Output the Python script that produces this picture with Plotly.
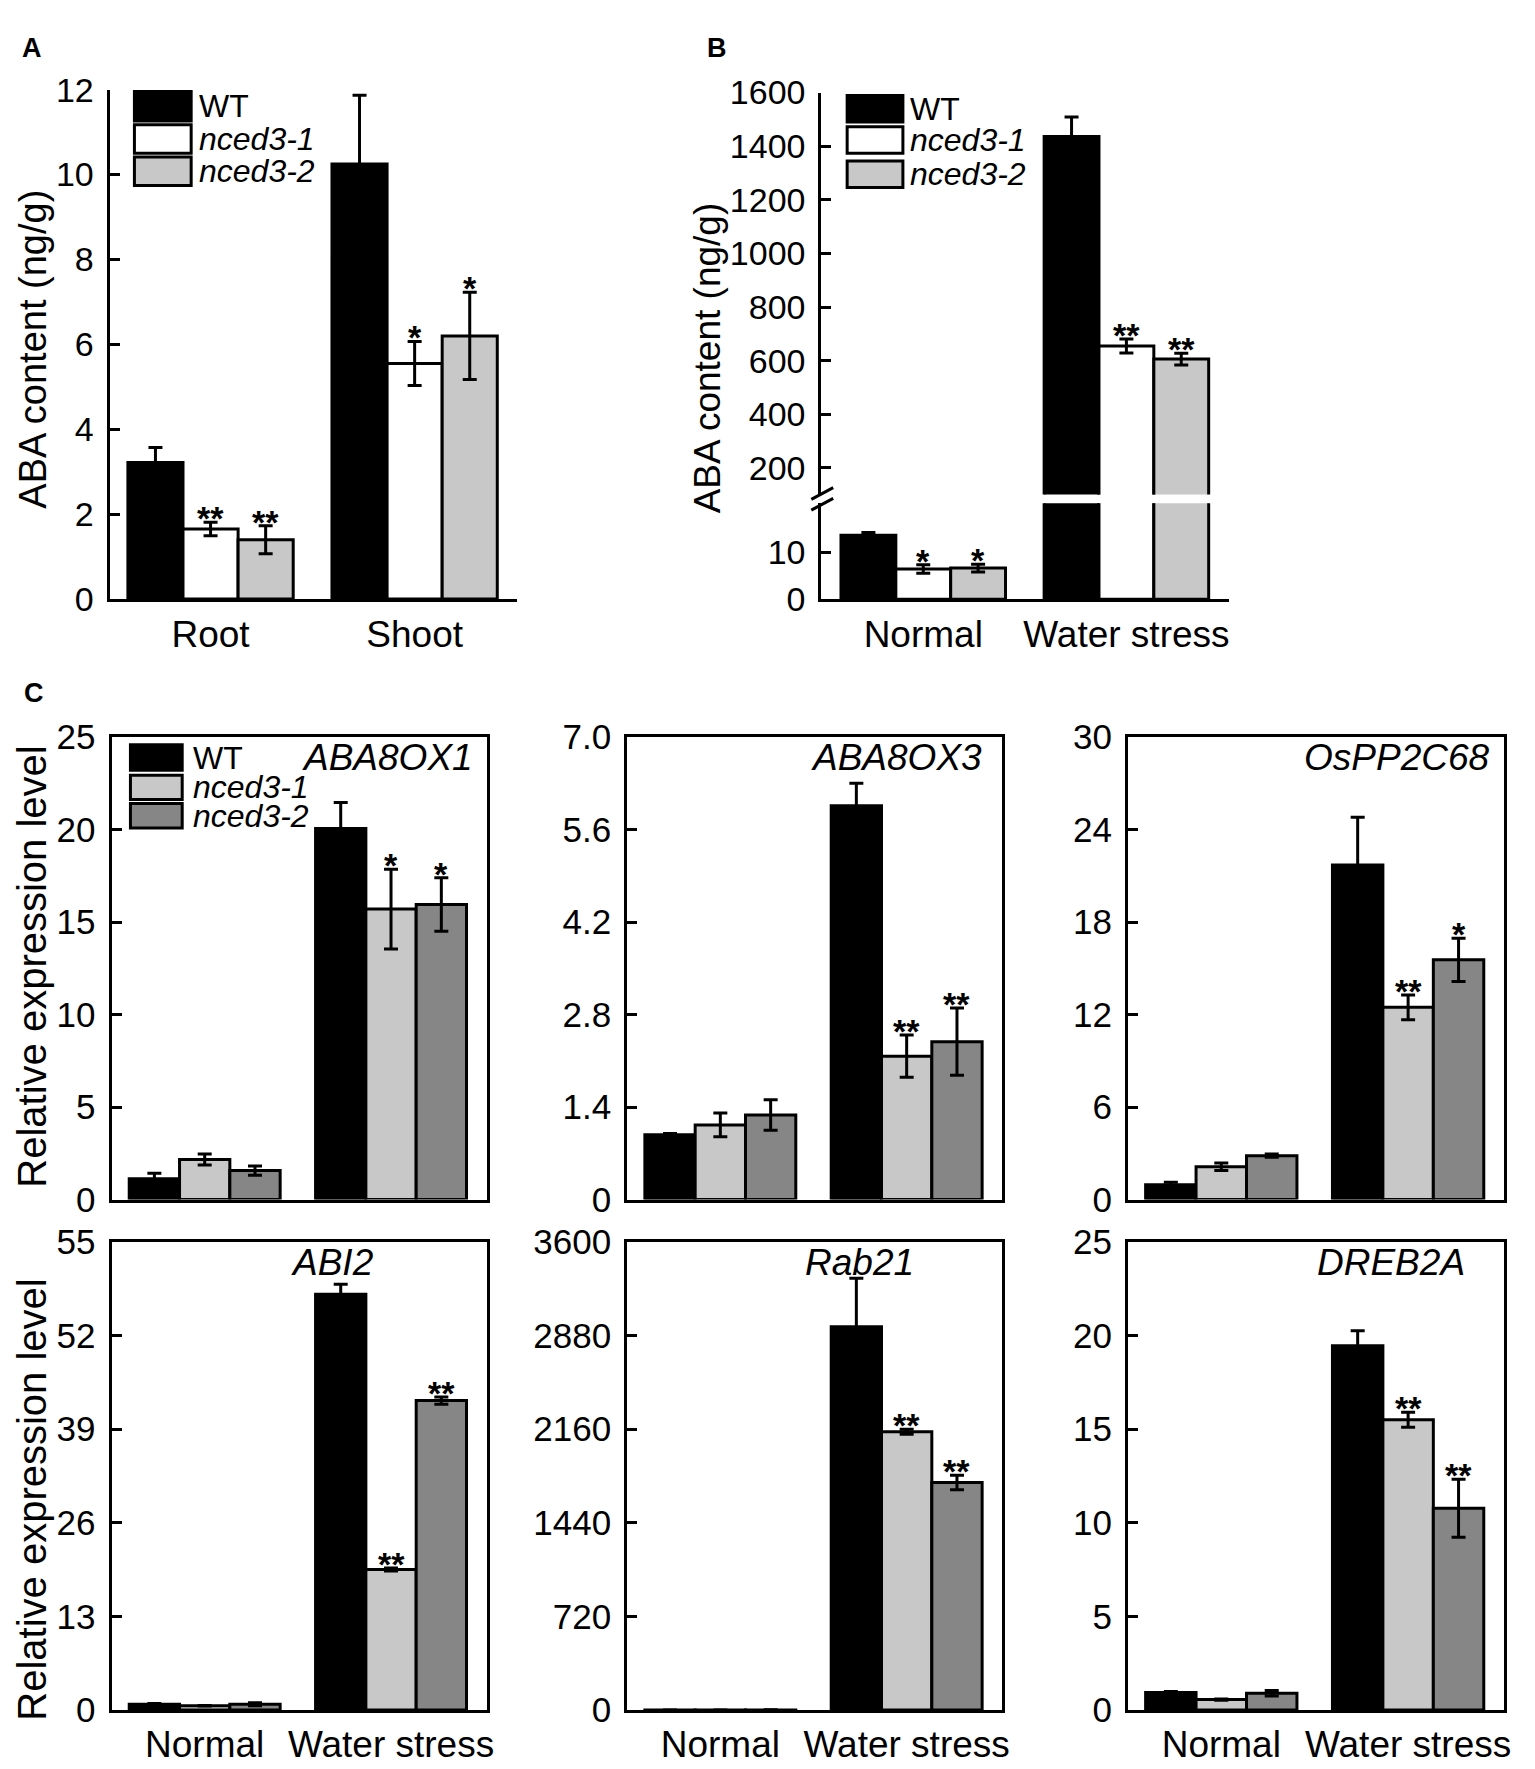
import plotly.graph_objects as go

W, H = 1535, 1769
FONT = "Liberation Sans, Arial, sans-serif"

# ---- data ----
genotypes = ["WT", "nced3-1", "nced3-2"]

# panel A: ABA content by tissue
tissues = ["Root", "Shoot"]
a_vals = [[3.22, 10.25], [1.65, 5.55], [1.40, 6.20]]
a_errs = [[0.35, 1.62], [0.16, 0.52], [0.33, 1.03]]
a_stars = [["", ""], ["**", "*"], ["**", "*"]]
a_ticks = [0, 2, 4, 6, 8, 10, 12]

# panel B: ABA content by condition (broken axis)
conditions = ["Normal", "Water stress"]
b_vals = [[13.6, 1436], [6.4, 655], [6.6, 606]]
b_errs = [[0.6, 73], [0.9, 26], [0.8, 22]]
b_stars = [["", ""], ["*", "**"], ["*", "**"]]
b_low_ticks = [0, 10]
b_high_ticks = [200, 400, 600, 800, 1000, 1200, 1400, 1600]

# panel C: relative expression of six genes
genes = ["ABA8OX1", "ABA8OX3", "OsPP2C68", "ABI2", "Rab21", "DREB2A"]
c_wt = [[1.13, 20.06], [0.98, 5.96], [0.97, 21.7], [0.8, 57.7], [1.0, 2946], [0.94, 19.44]]
c_wt_err = [[0.3, 1.4], [0.02, 0.34], [0.15, 3.1], [0.1, 1.4], [0.5, 372], [0.05, 0.8]]
c_n1 = [[2.17, 15.7], [1.13, 2.17], [2.13, 12.47], [0.6, 19.5], [0.8, 2139], [0.56, 15.5]]
c_n1_err = [[0.3, 2.15], [0.18, 0.32], [0.25, 0.8], [0.05, 0.2], [0.5, 20], [0.03, 0.4]]
c_n2 = [[1.57, 15.95], [1.28, 2.39], [2.85, 15.55], [0.8, 42.95], [1.2, 1749], [0.9, 10.77]]
c_n2_err = [[0.25, 1.45], [0.23, 0.51], [0.1, 1.4], [0.2, 0.5], [0.5, 55], [0.15, 1.55]]
c_n1_stars = [["", "*"], ["", "**"], ["", "**"], ["", "**"], ["", "**"], ["", "**"]]
c_n2_stars = [["", "*"], ["", "**"], ["", "*"], ["", "**"], ["", "**"], ["", "**"]]
c_ranges = [[0, 25], [0, 7], [0, 30], [0, 65], [0, 3600], [0, 25]]
c_tickvals = [[0, 5, 10, 15, 20, 25],
              [0, 1.4, 2.8, 4.2, 5.6, 7.0],
              [0, 6, 12, 18, 24, 30],
              [0, 13, 26, 39, 52, 65],
              [0, 720, 1440, 2160, 2880, 3600],
              [0, 5, 10, 15, 20, 25]]
c_ticktext = [["0", "5", "10", "15", "20", "25"],
              ["0", "1.4", "2.8", "4.2", "5.6", "7.0"],
              ["0", "6", "12", "18", "24", "30"],
              ["0", "13", "26", "39", "52", "55"],
              ["0", "720", "1440", "2160", "2880", "3600"],
              ["0", "5", "10", "15", "20", "25"]]

ab_colors = ["#000000", "#ffffff", "#c8c8c8"]
c_colors = ["#000000", "#c8c8c8", "#868686"]

BARGAP = 0.19
BW = (1 - BARGAP) / 3


def dom_x(left, right):
    return [left / W, right / W]


def dom_y(top, bottom):
    return [1 - bottom / H, 1 - top / H]


fig = go.Figure()
annotations = []
shapes = []


def add_panel(xa, ya, cats, vals, errs, stars, colors, star_ok=None):
    for k in range(3):
        fig.add_trace(go.Bar(
            x=cats, y=vals[k], name=genotypes[k], xaxis=xa, yaxis=ya,
            marker=dict(color=colors[k], line=dict(color="black", width=3)),
            error_y=dict(type="data", array=errs[k], color="black", thickness=3, width=7),
            showlegend=False, hoverinfo="skip"))
        for i in range(len(cats)):
            if stars[k][i] and (star_ok is None or star_ok(vals[k][i])):
                annotations.append(dict(
                    x=i + (k - 1) * BW, y=vals[k][i] + errs[k][i],
                    xref=xa, yref=ya, text="<b>" + stars[k][i] + "</b>",
                    showarrow=False, yanchor="bottom", yshift=-17,
                    font=dict(size=34, family=FONT, color="black")))


def add_legend(x0, x1, rows, text_x, colors):
    for k, (top, bot) in enumerate(rows):
        shapes.append(dict(type="rect", xref="paper", yref="paper",
                           x0=x0 / W, x1=x1 / W, y0=1 - bot / H, y1=1 - top / H,
                           fillcolor=colors[k], line=dict(color="black", width=3)))
        label = genotypes[k] if k == 0 else "<i>" + genotypes[k] + "</i>"
        annotations.append(dict(x=text_x / W, y=1 - (top + bot) / 2 / H, xref="paper", yref="paper",
                                text=label, showarrow=False, xanchor="left", yanchor="middle",
                                height=28, valign="middle",
                                font=dict(size=32, family=FONT, color="black")))


# panel A
add_panel("x", "y", tissues, a_vals, a_errs, a_stars, ab_colors)
# panel B, lower and upper segments
add_panel("x2", "y2", conditions, b_vals, b_errs, b_stars, ab_colors, lambda v: v < 20)
add_panel("x3", "y3", conditions, b_vals, b_errs, b_stars, ab_colors, lambda v: v > 100)
# panel C
c_axes = [("x4", "y4"), ("x5", "y5"), ("x6", "y6"), ("x7", "y7"), ("x8", "y8"), ("x9", "y9")]
for g in range(6):
    add_panel(c_axes[g][0], c_axes[g][1], conditions,
              [c_wt[g], c_n1[g], c_n2[g]], [c_wt_err[g], c_n1_err[g], c_n2_err[g]],
              [["", ""], c_n1_stars[g], c_n2_stars[g]], c_colors)

line = dict(showline=True, linewidth=3, linecolor="black", showgrid=False, zeroline=False)
ytick = dict(ticks="inside", ticklen=10, tickwidth=3, tickcolor="black", ticklabelstandoff=6)

layout = dict(
    width=W, height=H, margin=dict(l=0, r=0, t=0, b=0),
    paper_bgcolor="white", plot_bgcolor="white",
    barmode="group", bargap=BARGAP, bargroupgap=0,
    font=dict(family=FONT, color="black"),
    showlegend=False,
)

# A axes
layout["xaxis"] = dict(domain=dom_x(102, 511), anchor="y", range=[-0.495, 1.5], ticks="",
                       tickfont=dict(size=37), **line)
layout["yaxis"] = dict(domain=dom_y(63, 584), anchor="x", range=[0, 12], tickvals=a_ticks,
                       tickfont=dict(size=34), **line, **ytick)
# B axes
layout["xaxis2"] = dict(domain=dom_x(817, 1227), anchor="y2", range=[-0.502, 1.507], ticks="",
                        tickfont=dict(size=37), **line)
layout["yaxis2"] = dict(domain=dom_y(486, 584), anchor="x2", range=[0, 20.4], tickvals=b_low_ticks,
                        tickfont=dict(size=34), **line, **ytick)
layout["xaxis3"] = dict(domain=dom_x(817, 1227), anchor="y3", matches="x2", visible=False)
layout["yaxis3"] = dict(domain=dom_y(66, 477), anchor="x3", range=[101, 1600], tickvals=b_high_ticks,
                        tickfont=dict(size=34), **line, **ytick)

# C axes
c_cols = [(104, 481), (622, 999), (1125, 1503)]
c_rows = [(725, 1198), (1241, 1720)]
for g in range(6):
    r, c = divmod(g, 3)
    n = g + 4
    layout["xaxis%d" % n] = dict(domain=dom_x(*c_cols[c]), anchor="y%d" % n, range=[-0.5, 1.514],
                                 ticks="", mirror=True, showticklabels=(r == 1),
                                 tickfont=dict(size=37), **line)
    layout["yaxis%d" % n] = dict(domain=dom_y(*c_rows[r]), anchor="x%d" % n, range=c_ranges[g],
                                 tickvals=c_tickvals[g], ticktext=c_ticktext[g], mirror=True,
                                 tickfont=dict(size=35), **line, **ytick)

# gene names inside each panel
gene_pos = [(0.968, "right"), (0.95, "right"), (0.968, "right"),
            (0.59, "center"), (0.62, "center"), (0.902, "right")]
for g in range(6):
    r = g // 3
    n = g + 4
    annotations.append(dict(x=gene_pos[g][0], y=1 - 21 / (c_rows[r][1] - c_rows[r][0]),
                            xref="x%d domain" % n, yref="y%d domain" % n,
                            text="<i>" + genes[g] + "</i>", showarrow=False,
                            xanchor=gene_pos[g][1], yanchor="middle",
                            font=dict(size=37, family=FONT, color="black")))

# legends
add_legend(127, 184, [(65, 95), (99, 128), (132, 161)], 190, ab_colors)
add_legend(843, 899, [(69, 96), (101, 128), (136, 163)], 904, ab_colors)
add_legend(123, 175, [(733, 759), (764, 789), (793, 818)], 184, c_colors)

# panel letters
for letter, lx, ly in [("A", 12, 20), ("B", 700, 20), ("C", 14, 680)]:
    annotations.append(dict(x=lx / W, y=1 - ly / H, xref="paper", yref="paper", text="<b>" + letter + "</b>",
                            showarrow=False, xanchor="left", yanchor="middle",
                            font=dict(size=27, family=FONT, color="black")))

# y titles
for text, tx, ty, fs in [("ABA content (ng/g)", 25, 328, 38), ("ABA content (ng/g)", 703, 337, 37),
                         ("Relative expression level", 24, 960, 40),
                         ("Relative expression level", 24, 1505, 40)]:
    annotations.append(dict(x=tx / W, y=1 - ty / H, xref="paper", yref="paper", text=text,
                            textangle=-90, showarrow=False, xanchor="center", yanchor="middle",
                            font=dict(size=fs, family=FONT, color="black")))

# axis break marks on panel B
for y0 in (482, 493):
    shapes.append(dict(type="line", xref="paper", yref="paper",
                       x0=807 / W, x1=829 / W, y0=1 - y0 / H, y1=1 - (y0 - 12) / H,
                       line=dict(color="black", width=3)))

layout["annotations"] = annotations
layout["shapes"] = shapes
fig.update_layout(**layout)

fig.write_html("out.html")
